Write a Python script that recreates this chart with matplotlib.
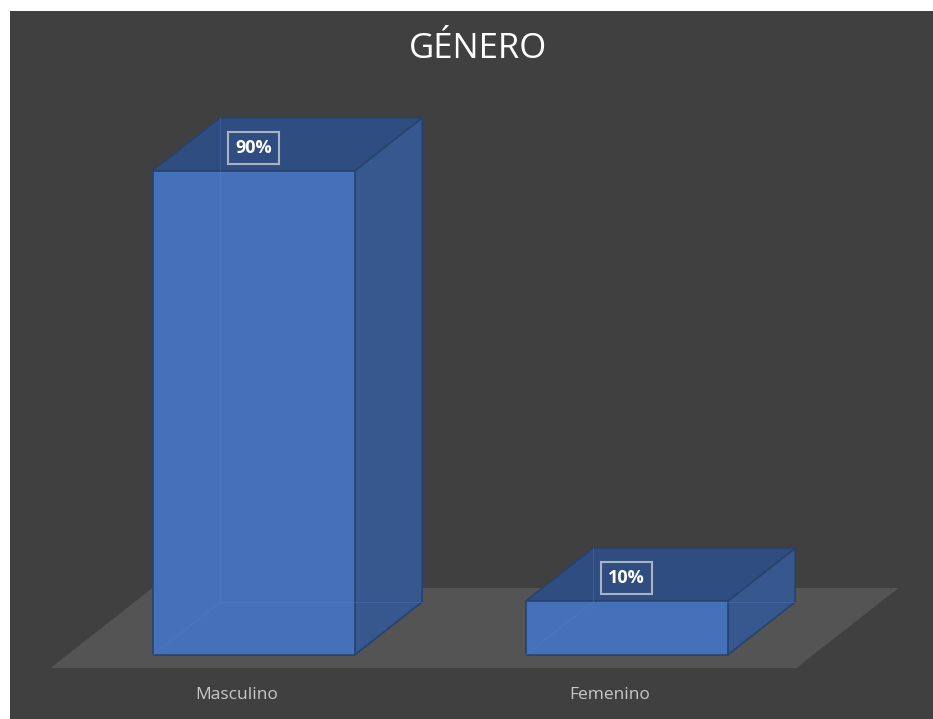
import matplotlib.pyplot as plt
from matplotlib.patches import Polygon, Rectangle

categorias = ["Masculino", "Femenino"]
porcentajes = [0.90, 0.10]
etiquetas = ["90%", "10%"]
titulo = "GÉNERO"

W, H = 933, 719
fondo = "#404040"
piso = "#545454"
frente = "#4471BA"
techo = "#2F4D80"
lado = "#36588F"
borde = "#27436F"

fig = plt.figure(figsize=(W / 100, H / 100), dpi=100)
fig.patch.set_facecolor("white")
fig.patches.append(Rectangle((10 / W, 0), 1 - 10 / W, 1 - 11 / H, transform=fig.transFigure,
                             facecolor=fondo, edgecolor="none", zorder=0))

ax = fig.add_axes([0, 0, 1, 1])
ax.set_zorder(2)
ax.set_xlim(-0.6354, 1.866)
ax.set_ylim(-0.0948, 1.2416)
ax.axis("off")

# tamano de un pixel en unidades de datos
px_x = (1.866 + 0.6354) / W
px_y = (1.2416 + 0.0948) / H
DX = 102 * px_x   # desplazamiento de profundidad del piso completo
DY = 80 * px_y


def p(x, v, d):
    return (x + d * DX, v + d * DY)


# piso
ax.add_patch(Polygon([p(-0.5, 0, 0), p(1.5, 0, 0), p(1.5, 0, 1), p(-0.5, 0, 1)],
                     closed=True, facecolor=piso, edgecolor="none", zorder=1))

w = 0.5416 / 2
d0, d1 = 0.1625, 0.825
for i, (h, lab) in enumerate(zip(porcentajes, etiquetas)):
    c = i
    front = [p(c - w, 0, d0), p(c + w, 0, d0), p(c + w, h, d0), p(c - w, h, d0)]
    top = [p(c - w, h, d0), p(c + w, h, d0), p(c + w, h, d1), p(c - w, h, d1)]
    side = [p(c + w, 0, d0), p(c + w, 0, d1), p(c + w, h, d1), p(c + w, h, d0)]
    for pts, col in [(side, lado), (top, techo), (front, frente)]:
        ax.add_patch(Polygon(pts, closed=True, facecolor=col, edgecolor=borde, lw=1.2, zorder=2))
    # aristas ocultas tenues
    for a, b in [(p(c - w, 0, d1), p(c + w, 0, d1)), (p(c - w, 0, d0), p(c - w, 0, d1)),
                 (p(c - w, 0, d1), p(c - w, h, d1))]:
        ax.plot([a[0], b[0]], [a[1], b[1]], color="#5A82C8", lw=0.8, alpha=0.3, zorder=3)
    xt, yt = p(c, h, d0)
    ax.annotate(lab, (xt, yt), xytext=(0, 23), textcoords="offset pixels",
                ha="center", va="center", color="white", fontsize=13, fontweight="bold",
                family=["Open Sans", "DejaVu Sans"], zorder=5,
                bbox=dict(boxstyle="square,pad=0.4", facecolor=techo, edgecolor="#A9B3C4", lw=1.5))
    ax.text(i, -31 * px_y, categorias[i], ha="center", va="baseline", color="#C8C8C8",
            fontsize=12.5, family=["Open Sans", "DejaVu Sans"], zorder=5)

fig.text(478 / W, 1 - 58 / H, titulo, ha="center", va="baseline", color="white",
         fontsize=25, family=["Open Sans", "DejaVu Sans"], zorder=3)

fig.savefig("out.png", dpi=100, facecolor=fig.get_facecolor())
